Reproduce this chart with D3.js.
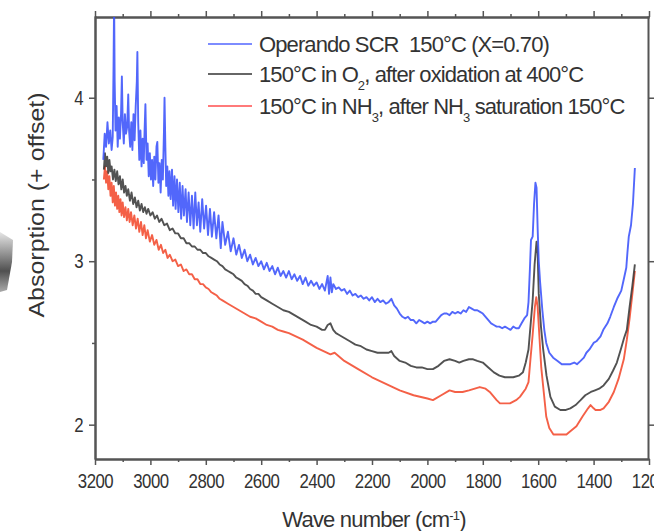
<!DOCTYPE html>
<html lang="en">
<head>
<meta charset="UTF-8">
<title>Spectra</title>
<script src="https://d3js.org/d3.v7.min.js"></script>
<style>
  body { margin: 0; background: #fff; }
  text { font-family: "Liberation Sans", Arial, sans-serif; fill: #333; }
</style>
</head>
<body>
<div id="chart"></div>
<script>
// wave numbers (cm-1) and absorbance
const blueData = [
  [3170,3.62],[3165,3.78],[3160,3.70],[3155,3.85],[3150,3.72],[3145,3.80],[3140,3.68],[3136,3.76],
  [3133,4.20],[3131,4.60],[3129,4.10],[3126,3.80],[3122,3.95],[3118,3.70],[3114,3.88],[3110,3.75],
  [3106,3.90],[3103,4.13],[3100,3.85],[3096,3.72],[3092,3.90],[3088,3.78],[3084,3.82],[3080,4.02],
  [3077,3.80],[3073,3.70],[3069,3.85],[3065,3.68],[3061,3.90],[3057,3.74],[3053,3.95],[3049,4.10],
  [3047,4.28],[3044,3.85],[3040,3.62],[3036,3.80],[3032,3.58],[3028,3.75],[3024,3.60],[3021,3.80],
  [3018,3.96],[3014,3.62],[3010,3.72],[3006,3.52],[3002,3.66],[2998,3.50],[2994,3.62],[2990,3.46],
  [2986,3.64],[2982,3.50],[2978,3.70],[2975,3.73],[2971,3.48],[2967,3.60],[2963,3.42],[2959,3.62],
  [2955,3.50],[2951,3.80],[2949,4.00],[2946,3.70],[2943,3.46],[2939,3.58],[2935,3.40],[2931,3.55],
  [2927,3.38],[2922,3.56],[2918,3.34],[2913,3.52],[2909,3.32],[2904,3.50],[2899,3.30],[2894,3.48],
  [2889,3.26],[2884,3.46],[2879,3.28],[2873,3.44],[2868,3.24],[2862,3.42],[2856,3.22],[2850,3.40],
  [2844,3.20],[2838,3.42],[2832,3.22],[2826,3.36],[2820,3.18],[2813,3.38],[2806,3.20],[2799,3.34],
  [2792,3.16],[2785,3.32],[2778,3.15],[2770,3.30],[2762,3.14],[2754,3.28],[2746,3.08],[2740,3.24],
  [2730,3.10],[2720,3.18],[2710,3.06],[2700,3.14],[2690,3.04],[2680,3.10],[2670,3.02],[2660,3.07],
  [2650,3.00],[2640,3.04],[2630,2.98],[2620,3.02],[2610,2.97],[2600,3.00],[2590,2.95],[2580,2.99],
  [2570,2.94],[2560,2.97],[2550,2.92],[2540,2.96],[2530,2.91],[2520,2.94],[2510,2.90],[2500,2.94],
  [2490,2.89],[2480,2.92],[2470,2.88],[2460,2.91],[2450,2.86],[2440,2.90],[2430,2.85],[2420,2.88],
  [2410,2.85],[2400,2.87],[2390,2.83],[2380,2.86],[2370,2.82],[2360,2.91],[2355,2.80],[2350,2.90],
  [2345,2.81],[2340,2.86],[2330,2.83],[2320,2.84],[2310,2.82],[2300,2.83],[2290,2.80],[2280,2.82],
  [2270,2.79],[2260,2.80],[2250,2.78],[2240,2.79],[2230,2.77],[2220,2.78],[2210,2.76],[2200,2.78],
  [2190,2.75],[2180,2.77],[2170,2.75],[2160,2.76],[2150,2.74],[2140,2.75],[2130,2.77],[2120,2.73],
  [2110,2.71],[2100,2.68],[2090,2.66],[2080,2.65],[2070,2.66],[2060,2.64],[2050,2.64],[2040,2.62],
  [2030,2.64],[2020,2.63],[2010,2.62],[2000,2.63],[1990,2.62],[1980,2.63],[1970,2.63],[1960,2.65],
  [1950,2.67],[1940,2.68],[1930,2.68],[1920,2.67],[1910,2.69],[1900,2.68],[1890,2.69],[1880,2.68],
  [1870,2.70],[1860,2.69],[1850,2.72],[1840,2.71],[1830,2.70],[1820,2.70],[1810,2.69],[1800,2.68],
  [1790,2.66],[1780,2.64],[1770,2.62],[1760,2.61],[1750,2.60],[1740,2.60],[1730,2.59],[1720,2.60],
  [1710,2.59],[1700,2.58],[1690,2.60],[1680,2.59],[1670,2.59],[1660,2.62],[1650,2.65],[1640,2.67],
  [1635,2.75],[1630,2.95],[1626,3.13],[1620,3.15],[1615,3.35],[1610,3.48],[1606,3.45],[1602,3.20],
  [1598,3.00],[1593,2.87],[1585,2.70],[1578,2.58],[1571,2.50],[1560,2.44],[1546,2.41],[1530,2.39],
  [1515,2.37],[1498,2.37],[1484,2.37],[1470,2.38],[1460,2.37],[1447,2.39],[1435,2.41],[1426,2.44],
  [1415,2.46],[1400,2.50],[1390,2.51],[1375,2.54],[1365,2.58],[1350,2.62],[1340,2.66],[1327,2.72],
  [1315,2.77],[1300,2.82],[1291,2.89],[1282,2.96],[1278,3.05],[1273,3.15],[1265,3.22],[1258,3.35],
  [1251,3.57]
];

const blackData = [
  [3168,3.56],[3164,3.66],[3160,3.58],[3156,3.64],[3152,3.54],[3148,3.62],[3144,3.55],[3140,3.58],
  [3135,3.50],[3130,3.56],[3125,3.49],[3120,3.55],[3115,3.47],[3110,3.52],[3105,3.44],[3100,3.50],
  [3095,3.42],[3090,3.46],[3085,3.40],[3080,3.44],[3074,3.37],[3068,3.42],[3062,3.35],[3056,3.39],
  [3050,3.33],[3044,3.37],[3038,3.31],[3032,3.35],[3026,3.30],[3020,3.33],[3014,3.29],[3008,3.32],
  [3000,3.28],[2992,3.30],[2984,3.26],[2976,3.28],[2968,3.24],[2960,3.26],[2950,3.22],[2940,3.23],
  [2930,3.19],[2920,3.20],[2910,3.17],[2900,3.17],[2890,3.14],[2880,3.14],[2870,3.11],[2860,3.11],
  [2850,3.09],[2840,3.09],[2830,3.07],[2820,3.07],[2810,3.05],[2800,3.05],[2790,3.03],[2780,3.02],
  [2770,3.01],[2760,3.00],[2750,2.98],[2740,2.97],[2730,2.95],[2720,2.94],[2710,2.93],[2700,2.92],
  [2690,2.90],[2680,2.89],[2670,2.88],[2660,2.86],[2650,2.85],[2640,2.83],[2630,2.82],[2620,2.80],
  [2610,2.80],[2600,2.78],[2580,2.76],[2560,2.74],[2540,2.72],[2520,2.70],[2500,2.69],[2480,2.67],
  [2460,2.65],[2440,2.63],[2420,2.61],[2400,2.60],[2380,2.58],[2370,2.58],[2360,2.61],[2350,2.62],
  [2340,2.58],[2330,2.56],[2320,2.55],[2300,2.53],[2280,2.51],[2260,2.49],[2240,2.48],[2220,2.46],
  [2200,2.45],[2180,2.44],[2160,2.44],[2140,2.44],[2130,2.45],[2120,2.42],[2100,2.39],[2080,2.38],
  [2060,2.36],[2040,2.35],[2020,2.35],[2000,2.34],[1990,2.34],[1980,2.34],[1960,2.36],[1940,2.39],
  [1920,2.40],[1900,2.39],[1885,2.38],[1870,2.39],[1850,2.40],[1835,2.40],[1820,2.39],[1800,2.38],
  [1780,2.35],[1760,2.32],[1740,2.30],[1720,2.29],[1700,2.29],[1690,2.29],[1670,2.30],[1655,2.32],
  [1645,2.38],[1635,2.46],[1628,2.60],[1620,2.76],[1613,2.98],[1606,3.12],[1602,3.05],[1598,2.80],
  [1590,2.60],[1582,2.46],[1570,2.30],[1556,2.17],[1540,2.11],[1520,2.09],[1500,2.09],[1484,2.10],
  [1465,2.12],[1447,2.15],[1430,2.18],[1410,2.20],[1395,2.21],[1380,2.22],[1364,2.24],[1345,2.28],
  [1330,2.33],[1316,2.38],[1300,2.47],[1290,2.53],[1280,2.58],[1270,2.72],[1260,2.85],[1251,2.98]
];

const redData = [
  [3168,3.50],[3164,3.58],[3160,3.48],[3156,3.55],[3152,3.44],[3148,3.52],[3144,3.40],[3140,3.48],
  [3136,3.36],[3132,3.46],[3128,3.34],[3124,3.42],[3120,3.32],[3116,3.40],[3112,3.30],[3108,3.38],
  [3104,3.28],[3100,3.36],[3095,3.27],[3090,3.33],[3085,3.25],[3080,3.32],[3075,3.24],[3070,3.30],
  [3064,3.22],[3058,3.28],[3052,3.20],[3046,3.26],[3040,3.18],[3034,3.24],[3028,3.16],[3022,3.22],
  [3016,3.14],[3010,3.19],[3002,3.12],[2994,3.16],[2986,3.10],[2978,3.13],[2970,3.07],[2962,3.10],
  [2954,3.05],[2946,3.07],[2938,3.02],[2930,3.04],[2920,3.00],[2910,3.01],[2900,2.97],[2890,2.98],
  [2880,2.94],[2870,2.95],[2860,2.92],[2850,2.92],[2840,2.89],[2830,2.89],[2820,2.86],[2810,2.86],
  [2800,2.84],[2790,2.83],[2780,2.81],[2770,2.80],[2760,2.79],[2750,2.77],[2740,2.76],[2720,2.74],
  [2700,2.72],[2680,2.70],[2660,2.68],[2640,2.66],[2620,2.65],[2600,2.63],[2580,2.61],[2560,2.60],
  [2540,2.58],[2520,2.57],[2500,2.56],[2450,2.52],[2400,2.47],[2350,2.43],[2335,2.44],[2300,2.39],
  [2250,2.34],[2200,2.29],[2150,2.25],[2100,2.21],[2050,2.18],[2000,2.16],[1980,2.15],[1950,2.18],
  [1920,2.21],[1900,2.20],[1873,2.20],[1850,2.21],[1811,2.23],[1790,2.22],[1775,2.20],[1750,2.15],
  [1738,2.13],[1702,2.13],[1680,2.15],[1666,2.17],[1645,2.22],[1635,2.26],[1628,2.40],[1620,2.55],
  [1612,2.72],[1607,2.78],[1602,2.72],[1596,2.55],[1589,2.35],[1580,2.20],[1571,2.05],[1560,1.98],
  [1545,1.94],[1520,1.94],[1498,1.94],[1484,1.96],[1462,1.99],[1440,2.05],[1420,2.10],[1411,2.12],
  [1400,2.10],[1393,2.09],[1375,2.09],[1364,2.10],[1345,2.14],[1327,2.20],[1310,2.28],[1291,2.40],
  [1280,2.52],[1270,2.65],[1260,2.80],[1251,2.94]
];

const xTicks = [3200, 3000, 2800, 2600, 2400, 2200, 2000, 1800, 1600, 1400, 1200];
const xMinorTicks = [3100, 2900, 2700, 2500, 2300, 2100, 1900, 1700, 1500, 1300];
const yTicks = [2, 3, 4];
const yMinorTicks = [2.5, 3.5];

const seriesColors = ["#3a52fa", "#3a3a3a", "#f24a2e"];
const legendColors = ["#7d8cff", "#666666", "#ff7a7a"];
// legend label segments: [text, isSubscript]
const legendLabels = [
  [["Operando SCR  150°C (X=0.70)", false]],
  [["150°C in O", false], ["2", true], [", after oxidation at 400°C", false]],
  [["150°C in NH", false], ["3", true], [", after NH", false], ["3", true], [" saturation 150°C", false]]
];

const W = 654, H = 531;
const plotLeft = 95, plotRight = 648, plotTop = 17, plotBottom = 459;

const svg = d3.select("#chart").append("svg")
  .attr("width", W).attr("height", H);

const x = d3.scaleLinear().domain([3200, 1200]).range([95, 649]);
const y = d3.scaleLinear().domain([1.79, 4.5]).range([459, 16]);

// odd smudge at the far left edge of the scan
const grad = svg.append("defs").append("linearGradient").attr("id", "smudge")
  .attr("x1", 0).attr("y1", 0).attr("x2", 0).attr("y2", 1);
grad.append("stop").attr("offset", 0).attr("stop-color", "#e6e6e6");
grad.append("stop").attr("offset", 0.65).attr("stop-color", "#505050");
grad.append("stop").attr("offset", 1).attr("stop-color", "#aaa");
svg.append("path")
  .attr("d", "M0,232 L13,240 L12,262 L7,290 L0,292 Z")
  .attr("fill", "url(#smudge)");

svg.append("clipPath").attr("id", "plotClip")
  .append("rect").attr("x", plotLeft).attr("y", plotTop)
  .attr("width", plotRight - plotLeft).attr("height", plotBottom - plotTop);

// axes (the scan is squeezed sideways, so the labels are narrowed too)
function styleAxis(g) {
  g.selectAll(".domain").attr("stroke", "#555").attr("stroke-width", 2);
  g.selectAll(".tick line").attr("stroke", "#555").attr("stroke-width", 1.5);
  g.selectAll(".tick text").attr("fill", "#383838")
    .style("font-size", "21px").style("letter-spacing", "-0.6px");
}

svg.append("g").attr("transform", "translate(0," + plotBottom + ")")
  .call(d3.axisBottom(x).tickValues(xTicks).tickFormat(d3.format("d")).tickSize(6).tickSizeOuter(0).tickPadding(8))
  .call(styleAxis)
  .selectAll(".tick text").attr("transform", "scale(0.8,1)");
svg.append("g").attr("transform", "translate(0," + plotBottom + ")")
  .call(d3.axisBottom(x).tickValues(xMinorTicks).tickFormat("").tickSize(3).tickSizeOuter(0))
  .call(styleAxis);
svg.append("g").attr("transform", "translate(0," + plotTop + ")")
  .call(d3.axisTop(x).tickValues(xTicks).tickFormat("").tickSize(6).tickSizeOuter(0))
  .call(styleAxis);
svg.append("g").attr("transform", "translate(0," + plotTop + ")")
  .call(d3.axisTop(x).tickValues(xMinorTicks).tickFormat("").tickSize(3).tickSizeOuter(0))
  .call(styleAxis);

svg.append("g").attr("transform", "translate(" + plotLeft + ",0)")
  .call(d3.axisLeft(y).tickValues(yTicks).tickFormat(d3.format("d")).tickSize(6).tickSizeOuter(0).tickPadding(6))
  .call(styleAxis)
  .selectAll(".tick text").attr("transform", "translate(-2.4,0) scale(0.8,1)");
svg.append("g").attr("transform", "translate(" + plotLeft + ",0)")
  .call(d3.axisLeft(y).tickValues(yMinorTicks).tickFormat("").tickSize(3).tickSizeOuter(0))
  .call(styleAxis);
svg.append("g").attr("transform", "translate(" + plotRight + ",0)")
  .call(d3.axisRight(y).tickValues(yTicks).tickFormat("").tickSize(6).tickSizeOuter(0))
  .call(styleAxis);

// axis titles
const xTitle = svg.append("text")
  .attr("x", 374).attr("y", 527)
  .attr("text-anchor", "middle")
  .style("font-size", "22px").style("letter-spacing", "-0.8px");
xTitle.append("tspan").text("Wave number (cm");
xTitle.append("tspan").attr("baseline-shift", "super").style("font-size", "13px").text("-1");
xTitle.append("tspan").text(")");

svg.append("text")
  .attr("transform", "translate(44,205) scale(0.85,1) rotate(-90)")
  .attr("text-anchor", "middle")
  .style("font-size", "25px").style("letter-spacing", "0px")
  .text("Absorption (+ offset)");

// spectra
const line = d3.line().x(d => x(d[0])).y(d => y(d[1]));
const lines = svg.append("g").attr("clip-path", "url(#plotClip)");
[[redData, seriesColors[2]], [blackData, seriesColors[1]], [blueData, seriesColors[0]]].forEach(s => {
  lines.append("path")
    .datum(s[0])
    .attr("fill", "none")
    .attr("stroke", s[1])
    .attr("stroke-width", 1.9)
    .attr("stroke-opacity", 0.88)
    .attr("stroke-linejoin", "round")
    .attr("d", line);
});

// legend
const legend = svg.append("g");
const legendY = [44, 74, 106];
legendLabels.forEach((parts, i) => {
  legend.append("line")
    .attr("x1", 208).attr("x2", 252)
    .attr("y1", legendY[i]).attr("y2", legendY[i])
    .attr("stroke", legendColors[i]).attr("stroke-width", 2);
  const t = legend.append("text")
    .attr("x", 259).attr("y", legendY[i] + 8)
    .attr("xml:space", "preserve")
    .style("white-space", "pre")
    .style("font-size", "22px").style("letter-spacing", "-0.9px");
  parts.forEach(p => {
    if (p[1]) {
      t.append("tspan").attr("baseline-shift", "sub").style("font-size", "13px").text(p[0]);
    } else {
      t.append("tspan").text(p[0]);
    }
  });
});
</script>
</body>
</html>
